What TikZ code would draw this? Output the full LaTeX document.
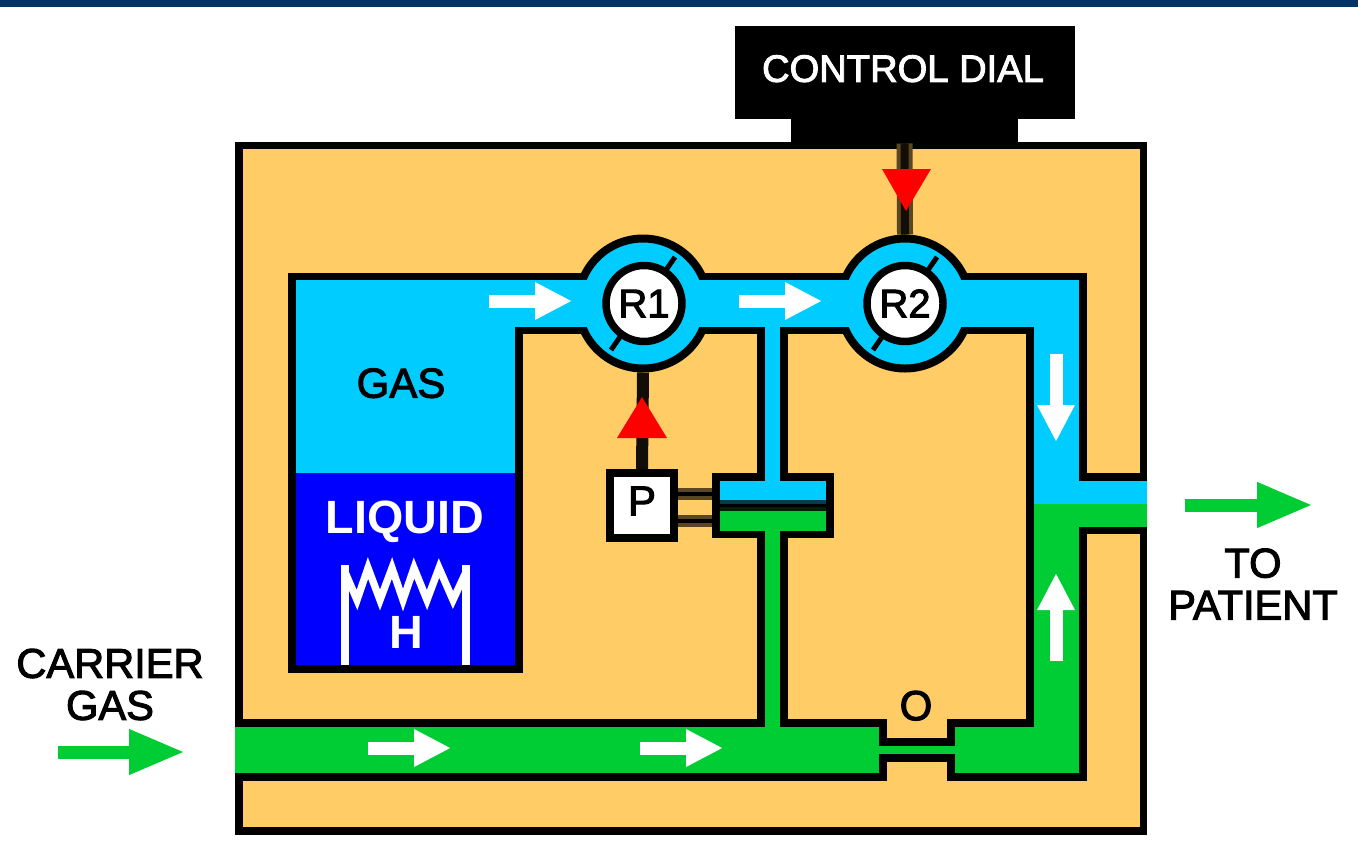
\documentclass[tikz,border=0pt]{standalone}
\usepackage{fontspec}
\setmainfont{Liberation Sans}
\newfontfamily\lblfont[FakeBold=2.5]{Liberation Sans}
\usetikzlibrary{arrows.meta}

\definecolor{casing}{RGB}{255,204,102}
\definecolor{gasblue}{RGB}{0,204,255}
\definecolor{liquidblue}{RGB}{0,0,255}
\definecolor{carriergreen}{RGB}{0,204,51}
\definecolor{topbar}{RGB}{0,51,102}
\definecolor{rodbrown}{RGB}{90,70,35}

\tikzset{every picture/.style={line width=0.75pt}}
\tikzset{
  wall/.style={line width=5.6pt,miter limit=10},
  flowwhite/.style={white,line width=9.75pt,-{Triangle[length=27.75pt,width=26.25pt]}},
  flowgreen/.style={carriergreen,line width=9.75pt,-{Triangle[length=42pt,width=31.5pt]}},
  ring/.style={circle,draw,line width=6pt,fill=gasblue,minimum size=97.5pt,inner sep=0pt},
  rotor/.style={circle,draw,line width=5.6pt,fill=white,minimum size=57pt,inner sep=0pt,font=\lblfont\fontsize{30}{32}\selectfont},
  needle/.style={line width=3.75pt},
  lbl/.style={inner sep=0pt,font=\lblfont\fontsize{31.5}{31.5}\selectfont,text depth=0pt},
  lbltwo/.style={inner sep=0pt,font=\lblfont\fontsize{31.2}{31.5}\selectfont,align=center},
  lblbold/.style={inner sep=0pt,white,font=\bfseries\fontsize{35}{36}\selectfont,text depth=0pt},
}

\begin{document}
\begin{tikzpicture}[x=0.75pt,y=0.75pt,yscale=-1,xscale=1]
\useasboundingbox (0,0) rectangle (1358,850);

%Shape: Rectangle top bar
\fill [topbar] (0,0) rectangle (1358,7);
%Shape: Rectangle casing
\draw [wall,fill=casing] (239,145.5) rectangle (1143.5,831);

%Shape: Polygon gas
\fill [gasblue] (292,276.5) -- (1083,276.5) -- (1083,477) -- (1147,477) -- (1147,504) -- (1030,504) -- (1030,330.5) -- (784,330.5) -- (784,477) -- (830,477) -- (830,503) -- (716,503) -- (716,477) -- (761,477) -- (761,330.5) -- (519,330.5) -- (519,473) -- (292,473) -- cycle ;
%Shape: Rectangle liquid
\fill [liquidblue] (292,473) rectangle (519,669);
%Shape: Polygon carrier gas
\fill [carriergreen] (1147,504) -- (1147,530.5) -- (1083,530.5) -- (1083,777) -- (951,777) -- (951,758) -- (883,758) -- (883,777) -- (235,777) -- (235,723) -- (761,723) -- (761,534.5) -- (716,534.5) -- (716,508) -- (830,508) -- (830,534.5) -- (784,534.5) -- (784,723) -- (883,723) -- (883,742) -- (951,742) -- (951,723) -- (1030,723) -- (1030,504) -- cycle ;

%Straight Lines upper wall
\draw [wall] (1147,477) -- (1083,477) -- (1083,276.5) -- (292,276.5) -- (292,669) -- (519,669) -- (519,330.5) -- (761,330.5) -- (761,477) -- (716,477) -- (716,534.5) -- (761,534.5) -- (761,723) -- (235,723) ;
%Straight Lines inner wall
\draw [wall] (784,723) -- (784,534.5) -- (830,534.5) -- (830,477) -- (784,477) -- (784,330.5) -- (1030,330.5) -- (1030,723) -- (951,723) -- (951,742) -- (883,742) -- (883,723) -- cycle ;
%Straight Lines lower wall
\draw [wall] (235,777) -- (883,777) -- (883,758) -- (951,758) -- (951,777) -- (1083,777) -- (1083,530.5) -- (1147,530.5) ;
%Straight Lines piston
\fill [black!70!gasblue] (720,500) rectangle (826,504);
\fill [black] (720,504) rectangle (826,507);
\fill [black!85!carriergreen] (720,507) rectangle (826,511);

%Shape: Circle valve rings
\node [ring] (ring1) at (643,303.5) {};
\node [ring] (ring2) at (905,303.5) {};
\fill [gasblue] (573,280) rectangle (713,327);
\fill [gasblue] (835,280) rectangle (975,327);

%Shape: Rectangle control dial
\node [fill=black,text=white,minimum width=255pt,minimum height=69.75pt,inner sep=0pt,text depth=6pt,font=\lblfont\fontsize{28.6}{30}\selectfont] (dial) at (905,72.5) {CONTROL DIAL\kern3pt};
\node [fill=black,minimum width=170.25pt,minimum height=18pt,inner sep=0pt] (dialbase) at (904.5,131) {};

%Shape: Square P
\node [draw,line width=5.6pt,fill=white,minimum width=48pt,minimum height=48.75pt,inner sep=0pt,text depth=6.75pt,font=\lblfont\fontsize{31.5}{32}\selectfont] (pbox) at (642,505.5) {P};
\coordinate (rodtop) at (712,494);
\coordinate (rodbot) at (712,521);

%Straight Lines stems
\draw [line width=9pt,black!93!casing] (pbox.north) -- (ring1.south);
\draw [line width=12pt,rodbrown] (dialbase.south) -- (ring2.north);
\draw [line width=6pt,black!93!casing] (dialbase.south) -- (ring2.north);
%Straight Lines rods
\draw [line width=9pt,rodbrown] (pbox.east |- rodtop) -- (rodtop);
\draw [line width=3pt,black] (pbox.east |- rodtop) -- (rodtop);
\draw [line width=9pt,rodbrown] (pbox.east |- rodbot) -- (rodbot);
\draw [line width=3pt,black] (pbox.east |- rodbot) -- (rodbot);

%Shape: Triangle red
\fill [red] (617,438) -- (642,397) -- (667,438) -- cycle ;
\fill [red] (882,169) -- (931,169) -- (906,211) -- cycle ;

%Straight Lines needles
\draw [needle] (675,257) -- (611,350) ;
\draw [needle] (937,257) -- (873,350) ;
\node [rotor] (r1) at (644,303.5) {R1};
\node [rotor] (r2) at (905,303.5) {R2};

%Straight Lines heater
\draw [white,line width=6pt] (345,565) -- (345,665) ;
\draw [white,line width=6pt] (466,565) -- (466,665) ;
\draw [white,line width=5.5pt] (345,572) -- (357,600) -- (368,568) -- (380,600) -- (392,568) -- (403,600) -- (414,568) -- (427,600) -- (439,568) -- (453,600) -- (466,572) ;

%Straight Lines white arrows
\draw [flowwhite] (489,301) -- (572,301) ;
\draw [flowwhite] (739,301) -- (822,301) ;
\draw [flowwhite] (368,748) -- (451,748) ;
\draw [flowwhite] (640,748) -- (723,748) ;
\draw [flowwhite] (1056,354) -- (1056,442) ;
\draw [flowwhite] (1056,661) -- (1056,573) ;
%Straight Lines green arrows
\draw [flowgreen] (58,752) -- (185,752) ;
\draw [flowgreen] (1185,505) -- (1313,505) ;

% Text Node
\node [lbl] (gaslabel) at (401,383) {GAS};
\node [lblbold] (liquidlabel) at (405,517) {LIQUID};
\node [lblbold] (heaterlabel) at (406,632.5) {H};
\node [lbl] (orifice) at (916,705.5) {O};
\node [lbltwo] (carrier) at (110,684.5) {CARRIER\\GAS};
\node [lbltwo] (patient) at (1253,584) {TO\\PATIENT};

\end{tikzpicture}
\end{document}
